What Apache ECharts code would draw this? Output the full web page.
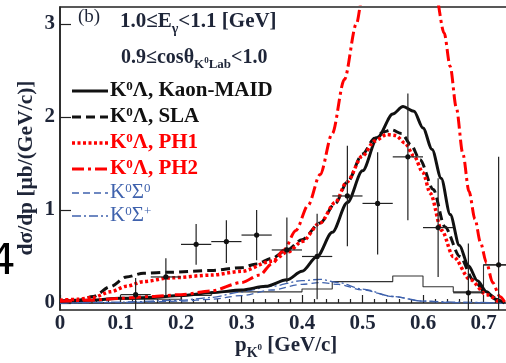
<!DOCTYPE html>
<html><head><meta charset="utf-8">
<script src="https://cdn.jsdelivr.net/npm/echarts@6/dist/echarts.min.js"></script>
<style>html,body{margin:0;padding:0;background:#fff}#c{width:506px;height:363px}</style>
</head><body><div id="c"></div>
<script>
// ---- data ----
const maidX = [0, 0.05, 0.1, 0.15, 0.2, 0.25, 0.3, 0.34, 0.375, 0.4, 0.425, 0.45, 0.475, 0.5, 0.525, 0.55, 0.567, 0.585, 0.6, 0.615, 0.63, 0.645, 0.66, 0.675, 0.69, 0.705, 0.72, 0.735];
const maidY = [0.02, 0.03, 0.05, 0.06, 0.08, 0.11, 0.14, 0.18, 0.25, 0.34, 0.5, 0.76, 1.08, 1.42, 1.78, 2.03, 2.11, 2.06, 1.88, 1.65, 1.34, 0.95, 0.62, 0.4, 0.24, 0.12, 0.04, 0.0];

const slaX = [0, 0.03, 0.055, 0.083, 0.11, 0.138, 0.18, 0.25, 0.3, 0.325, 0.35, 0.375, 0.4, 0.43, 0.455, 0.475, 0.5, 0.52, 0.535, 0.548, 0.565, 0.58, 0.595, 0.617, 0.636, 0.661, 0.683, 0.705, 0.727];
const slaY = [0.02, 0.03, 0.07, 0.175, 0.28, 0.32, 0.33, 0.35, 0.38, 0.42, 0.48, 0.57, 0.68, 0.86, 1.07, 1.3, 1.6, 1.77, 1.84, 1.86, 1.82, 1.7, 1.54, 1.22, 0.82, 0.5, 0.25, 0.1, 0.01];

const ph1X = [0, 0.03, 0.055, 0.083, 0.11, 0.138, 0.182, 0.25, 0.3, 0.35, 0.377, 0.4, 0.43, 0.455, 0.474, 0.5, 0.52, 0.54, 0.555, 0.57, 0.585, 0.6, 0.612, 0.631, 0.65, 0.678, 0.705, 0.727];
const ph1Y = [0.03, 0.04, 0.06, 0.12, 0.18, 0.23, 0.27, 0.3, 0.34, 0.45, 0.55, 0.66, 0.86, 1.08, 1.3, 1.58, 1.74, 1.81, 1.8, 1.72, 1.58, 1.4, 1.18, 0.78, 0.5, 0.25, 0.09, 0.0];

const ph2X = [0, 0.05, 0.1, 0.15, 0.2, 0.25, 0.3, 0.33, 0.35, 0.37, 0.39, 0.41, 0.43, 0.45, 0.47, 0.49, 0.5, 0.52, 0.54, 0.56, 0.58, 0.6, 0.62, 0.635, 0.645, 0.655, 0.666, 0.676, 0.686, 0.695, 0.705, 0.715, 0.727, 0.735];
const ph2Y = [0.02, 0.03, 0.05, 0.07, 0.09, 0.13, 0.22, 0.3, 0.42, 0.57, 0.78, 1.05, 1.38, 1.82, 2.4, 3.0, 3.3, 3.85, 4.3, 4.5, 4.35, 3.95, 3.35, 2.9, 2.54, 2.1, 1.6, 1.2, 0.9, 0.65, 0.43, 0.22, 0.07, 0.01];

const sig0X = [0, 0.1, 0.2, 0.25, 0.3, 0.35, 0.4, 0.43, 0.46, 0.5, 0.55, 0.6, 0.65, 0.735];
const sig0Y = [0.0, 0.005, 0.02, 0.04, 0.08, 0.14, 0.2, 0.22, 0.2, 0.14, 0.07, 0.02, 0.005, 0.0];

const sigPX = [0, 0.1, 0.2, 0.25, 0.3, 0.35, 0.4, 0.43, 0.46, 0.5, 0.55, 0.6, 0.65, 0.735];
const sigPY = [0.0, 0.01, 0.03, 0.06, 0.12, 0.18, 0.24, 0.255, 0.22, 0.15, 0.07, 0.02, 0.01, 0.0];

const histEdges = [0, 0.1, 0.2, 0.25, 0.4, 0.45, 0.55, 0.6, 0.65, 0.7, 0.8];
const histVals  = [0, 0.04, 0.08, 0.12, 0.15, 0.23, 0.29, 0.175, 0.12, 0.41, 0.41];

const dataX    = [0.125, 0.175, 0.225, 0.275, 0.325, 0.375, 0.425, 0.475, 0.525, 0.575, 0.625, 0.675, 0.725];
const dataY    = [0.09, 0.28, 0.63, 0.66, 0.73, 0.57, 0.5, 1.15, 1.07, 1.57, 0.81, 0.11, 0.41];
const dataXErr = [0.025, 0.025, 0.025, 0.025, 0.025, 0.025, 0.025, 0.025, 0.025, 0.025, 0.025, 0.025, 0.025];
const dataYErr = [0.18, 0.2, 0.22, 0.23, 0.27, 0.35, 0.46, 0.54, 0.55, 0.68, 0.53, 0.53, 1.16];

const xTickVals = [0, 0.1, 0.2, 0.3, 0.4, 0.5, 0.6, 0.7];
const yTickVals = [0, 1, 2, 3];

// ---- chart ----
const SERIF = 'Liberation Serif';
const RED = '#ff0000', BLUE = '#3f62ad', BLK = '#111', INK = '#1e2538';
const pairs = (xs, ys) => xs.map((x, i) => [x, ys[i]]);

function curve(name, xs, ys, color, width, dash, z) {
  return { name, type: 'line', data: pairs(xs, ys), showSymbol: false, smooth: 0.3, smoothMonotone: 'x',
    lineStyle: { color, width, type: dash, cap: 'butt' }, z: z || 3, silent: true };
}

function rich(color, weight, size, subScale) {
  const sc = subScale || 0.68;
  const b = { fontFamily: SERIF, fontWeight: weight, fill: color, verticalAlign: 'top' };
  return {
    a: Object.assign({}, b, { fontSize: size, lineHeight: size + 1 }),
    p: Object.assign({}, b, { fontSize: Math.round(size * 0.62), lineHeight: Math.round(size * 0.62) }),
    s: Object.assign({}, b, { fontSize: Math.round(size * sc), lineHeight: Math.round(size * sc), padding: [Math.round(size * 0.52), 0, 0, 0] }),
    ss: Object.assign({}, b, { fontSize: Math.round(size * 0.45), lineHeight: Math.round(size * 0.45), padding: [Math.round(size * 0.4), 0, 0, 0] })
  };
}
function rtext(x, y, text, color, weight, size, subScale) {
  return { type: 'text', x, y, silent: true, z: 100,
    style: { text, rich: rich(color, weight, size, subScale), fill: color, verticalAlign: 'top', align: 'left' } };
}
function legLine(y, color, width, dash) {
  return { type: 'line', silent: true, z: 100, shape: { x1: 72, y1: y, x2: 108, y2: y },
    style: { stroke: color, lineWidth: width, lineDash: dash } };
}

const DASH_SLA = [9, 5], DOT = [3, 2.5], DASHDOT = [12, 4, 3, 4], BDASH = [7, 4], BDD = [9, 3, 2, 3];
const LF = 21; // legend font size

const option = {
  animation: false,
  grid: { left: 60, top: 7, width: 484, height: 303, outerBoundsMode: 'none', containLabel: false,
    show: true, borderColor: '#222', borderWidth: 1.5, backgroundColor: 'transparent' },
  xAxis: {
    type: 'value', min: 0, max: 0.8, interval: 0.1,
    axisLine: { lineStyle: { color: '#222', width: 1.5 } },
    axisTick: { inside: true, length: 8, lineStyle: { color: '#222', width: 1.2 } },
    minorTick: { show: true, splitNumber: 5, length: 4, lineStyle: { color: '#222', width: 1.2 } },
    splitLine: { show: false },
    axisLabel: { customValues: xTickVals, formatter: v => (v === 0 ? '0' : v.toFixed(1)),
      fontFamily: SERIF, fontWeight: 'bold', fontSize: 21, color: INK, margin: 3 }
  },
  yAxis: {
    type: 'value', min: -0.075, max: 3.18,
    axisLine: { show: true, lineStyle: { color: '#222', width: 1.5 } },
    axisTick: { show: true, inside: true, length: 11, customValues: yTickVals, lineStyle: { color: '#222', width: 1.2 } },
    splitLine: { show: false },
    axisLabel: { customValues: yTickVals, fontFamily: SERIF, fontWeight: 'bold', fontSize: 21, color: INK, margin: 5 }
  },
  series: [
    { name: 'hist', type: 'line', step: 'end', data: pairs(histEdges, histVals), showSymbol: false,
      lineStyle: { color: '#333', width: 1.1 }, z: 2, silent: true },
    curve('K0Sigma0', sig0X, sig0Y, BLUE, 1.3, BDASH, 2),
    curve('K0Sigma+', sigPX, sigPY, BLUE, 1.3, BDD, 2),
    curve('Kaon-MAID', maidX, maidY, BLK, 3, 'solid', 3),
    curve('SLA', slaX, slaY, BLK, 3, DASH_SLA, 3),
    curve('PH1', ph1X, ph1Y, RED, 3.5, DOT, 4),
    curve('PH2', ph2X, ph2Y, RED, 3, DASHDOT, 4),
    {
      name: 'data', type: 'custom', clip: true, z: 10, encode: { x: 0, y: 1 },
      data: dataX.map((x, i) => [x, dataY[i], dataXErr[i], dataYErr[i]]),
      renderItem: (params, api) => {
        const x = api.value(0), y = api.value(1), ex = api.value(2), ey = api.value(3);
        const c = api.coord([x, y]), l = api.coord([x - ex, y]), r = api.coord([x + ex, y]);
        const t = api.coord([x, y + ey]), b = api.coord([x, y - ey]);
        const st = { stroke: '#222', lineWidth: 1.2 };
        return { type: 'group', children: [
          { type: 'line', shape: { x1: l[0], y1: l[1], x2: r[0], y2: r[1] }, style: st },
          { type: 'line', shape: { x1: t[0], y1: t[1], x2: b[0], y2: b[1] }, style: st },
          { type: 'circle', shape: { cx: c[0], cy: c[1], r: 2.6 }, style: { fill: '#111' } }
        ] };
      }
    }
  ],
  graphic: [
    { type: 'text', x: 78, y: 8, silent: true, z: 100, style: { text: '(b)', fontFamily: SERIF, fontSize: 19, fill: INK } },
    rtext(120, 11, '{a|1.0≤E}{s|γ}{a|<1.1 [GeV]}', INK, 'bold', 21),
    rtext(121, 48, '{a|0.9≤cosθ}{s|K}{ss|0}{s|Lab}{a|<1.0}', INK, 'bold', 20, 0.64),
    legLine(91, BLK, 3, null), rtext(110, 80, '{a|K}{p|0}{a|Λ, Kaon-MAID}', '#111', 'bold', LF),
    legLine(117, BLK, 3, DASH_SLA), rtext(110, 106, '{a|K}{p|0}{a|Λ, SLA}', '#111', 'bold', LF),
    legLine(143, RED, 3.5, DOT), rtext(110, 132, '{a|K}{p|0}{a|Λ, PH1}', RED, 'bold', LF),
    legLine(169, RED, 3, DASHDOT), rtext(110, 158, '{a|K}{p|0}{a|Λ, PH2}', RED, 'bold', LF),
    legLine(193, BLUE, 1.3, BDASH), rtext(110, 182, '{a|K}{p|0}{a|Σ}{p|0}', BLUE, 'normal', LF),
    legLine(216, BLUE, 1.3, BDD), rtext(110, 205, '{a|K}{p|0}{a|Σ}{p|+}', BLUE, 'normal', LF),
    rtext(235, 335, '{a|p}{s|K}{ss|0}{a| [GeV/c]}', INK, 'bold', 21),
    { type: 'text', x: 26, y: 168, rotation: Math.PI / 2, silent: true, z: 100,
      style: { text: 'dσ/dp [μb/(GeV/c)]', fontFamily: SERIF, fontWeight: 'bold', fontSize: 21.5, fill: INK, align: 'center', verticalAlign: 'middle' } },
    { type: 'text', x: -11, y: 242, silent: true, z: 100,
      style: { text: '4', fontFamily: 'DejaVu Sans', fontSize: 42, fill: '#000' } }
  ]
};
const chart = echarts.init(document.getElementById('c'), null, { renderer: 'canvas' });
chart.setOption(option);
</script></body></html>
